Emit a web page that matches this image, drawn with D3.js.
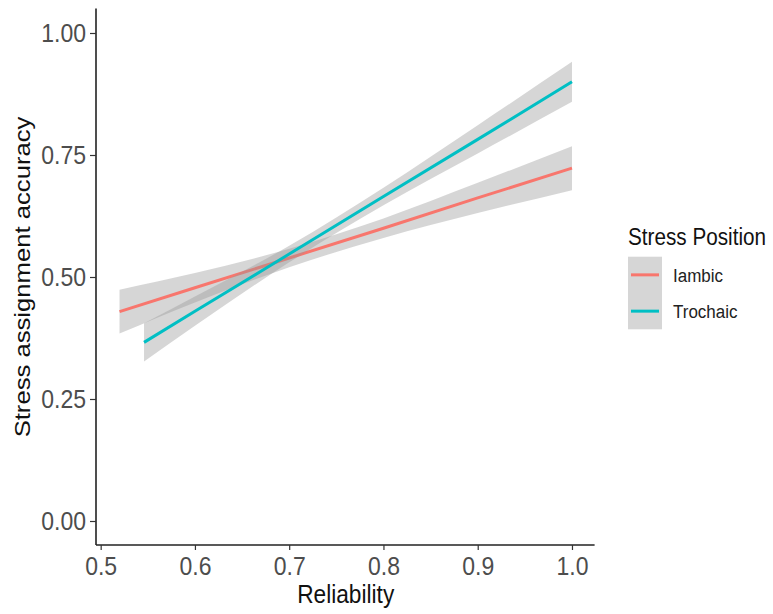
<!DOCTYPE html>
<html>
<head>
	<meta charset="UTF-8" />
	<title>Stress assignment accuracy</title>
	<script src="https://d3js.org/d3.v7.min.js"></script>
	<style>
		body { margin: 0; background: #fff; }
		text { font-family: "Liberation Sans", Arial, sans-serif; }
	</style>
</head>
<body>
	<svg id="chart" width="773" height="614"></svg>

	<script type="text/javascript">
	// data
	const groups = ["Iambic", "Trochaic"]
	const groupColors = ["#F8766D", "#00BFC4"]

	const iambicX = [0.52, 0.6, 0.7, 0.8, 0.9, 1.0]
	const iambicFit = [0.429, 0.478, 0.539, 0.600, 0.662, 0.723]
	const iambicLow = [0.384, 0.448, 0.520, 0.580, 0.631, 0.678]
	const iambicHigh = [0.474, 0.508, 0.558, 0.620, 0.693, 0.768]

	const trochaicX = [0.546, 0.6, 0.7, 0.8, 0.9, 1.0]
	const trochaicFit = [0.366, 0.430, 0.547, 0.665, 0.782, 0.900]
	const trochaicLow = [0.327, 0.400, 0.530, 0.647, 0.753, 0.859]
	const trochaicHigh = [0.405, 0.460, 0.564, 0.683, 0.811, 0.941]

	const xTicks = [0.5, 0.6, 0.7, 0.8, 0.9, 1.0]
	const yTicks = [0, 0.25, 0.5, 0.75, 1.0]

	// the picture is a bit stretched vertically
	const stretch = 1.13
	const ribbonFill = "#d6d6d6"

	const series = [
		{name: groups[0], color: groupColors[0], x: iambicX, fit: iambicFit, lo: iambicLow, hi: iambicHigh},
		{name: groups[1], color: groupColors[1], x: trochaicX, fit: trochaicFit, lo: trochaicLow, hi: trochaicHigh}
	]

	const svg = d3.select("#chart")

	const xScale = d3.scaleLinear().domain([0.496, 1.024]).range([96.9, 594.6])
	const yScale = d3.scaleLinear().domain([-0.05, 1.05]).range([545.4, 8.6])

	const plot = svg.append("g")

	series.forEach(s => {
		const rows = s.x.map((x, i) => ({x: x, fit: s.fit[i], lo: s.lo[i], hi: s.hi[i]}))

		const area = d3.area()
			.x(d => xScale(d.x))
			.y0(d => yScale(d.lo))
			.y1(d => yScale(d.hi))
			.curve(d3.curveMonotoneX)

		plot.append("path")
			.datum(rows)
			.attr("d", area)
			.attr("fill", "#999999")
			.attr("fill-opacity", 0.4)

		const line = d3.line()
			.x(d => xScale(d.x))
			.y(d => yScale(d.fit))

		plot.append("path")
			.datum(rows)
			.attr("d", line)
			.attr("fill", "none")
			.attr("stroke", s.color)
			.attr("stroke-width", 3)
	})

	// axes
	const xAxis = d3.axisBottom(xScale)
		.tickValues(xTicks)
		.tickFormat(d3.format(".1f"))
		.tickSize(5)
		.tickSizeOuter(0)

	const gx = svg.append("g")
		.attr("transform", "translate(0,545)")
		.call(xAxis)
	gx.select(".domain").attr("d", "M96,0H594.6").attr("stroke", "#222").attr("stroke-width", 1.6)
	gx.selectAll(".tick line").attr("stroke", "#333").attr("stroke-width", 1.2)
	gx.selectAll(".tick text")
		.attr("y", 0).attr("dy", 0)
		.attr("transform", `translate(0,30) scale(1,${stretch})`)
		.attr("font-size", 23)
		.attr("font-family", "Liberation Sans, Arial, sans-serif")
		.attr("fill", "#4d4d4d")

	const yAxis = d3.axisLeft(yScale)
		.tickValues(yTicks)
		.tickFormat(d3.format(".2f"))
		.tickSize(6)
		.tickSizeOuter(0)

	const gy = svg.append("g")
		.attr("transform", "translate(96,0)")
		.call(yAxis)
	gy.select(".domain").attr("d", "M0,8.6V545").attr("stroke", "#222").attr("stroke-width", 1.6)
	gy.selectAll(".tick line").attr("stroke", "#333").attr("stroke-width", 1.2)
	gy.selectAll(".tick text")
		.attr("x", 0).attr("dy", 0)
		.attr("transform", `translate(-10,8.3) scale(1,${stretch})`)
		.attr("font-size", 23)
		.attr("font-family", "Liberation Sans, Arial, sans-serif")
		.attr("fill", "#4d4d4d")

	// axis titles
	svg.append("text")
		.attr("transform", `translate(345.7,603) scale(1,${stretch})`)
		.attr("text-anchor", "middle")
		.attr("font-size", 22.7)
		.attr("fill", "#111")
		.text("Reliability")

	svg.append("text")
		.attr("transform", `translate(30,277) rotate(-90) scale(${stretch},1)`)
		.attr("text-anchor", "middle")
		.attr("font-size", 22.7)
		.attr("fill", "#111")
		.text("Stress assignment accuracy")

	// legend
	const legend = svg.append("g").attr("transform", "translate(628,0)")
	legend.append("text")
		.attr("transform", `translate(0,245) scale(1,${stretch})`)
		.attr("font-size", 20.7)
		.attr("fill", "#111")
		.text("Stress Position")

	const keyH = 36.3
	series.forEach((s, i) => {
		const top = 256.7 + i * keyH
		legend.append("rect")
			.attr("x", 0).attr("y", top)
			.attr("width", 34).attr("height", keyH)
			.attr("fill", ribbonFill)
		legend.append("line")
			.attr("x1", 3).attr("x2", 31)
			.attr("y1", top + keyH / 2).attr("y2", top + keyH / 2)
			.attr("stroke", s.color)
			.attr("stroke-width", 3)
		legend.append("text")
			.attr("transform", `translate(45,${top + keyH / 2 + 6.7}) scale(1,${stretch})`)
			.attr("font-size", 17)
			.attr("fill", "#222")
			.text(s.name)
	})
	</script>
</body>
</html>
